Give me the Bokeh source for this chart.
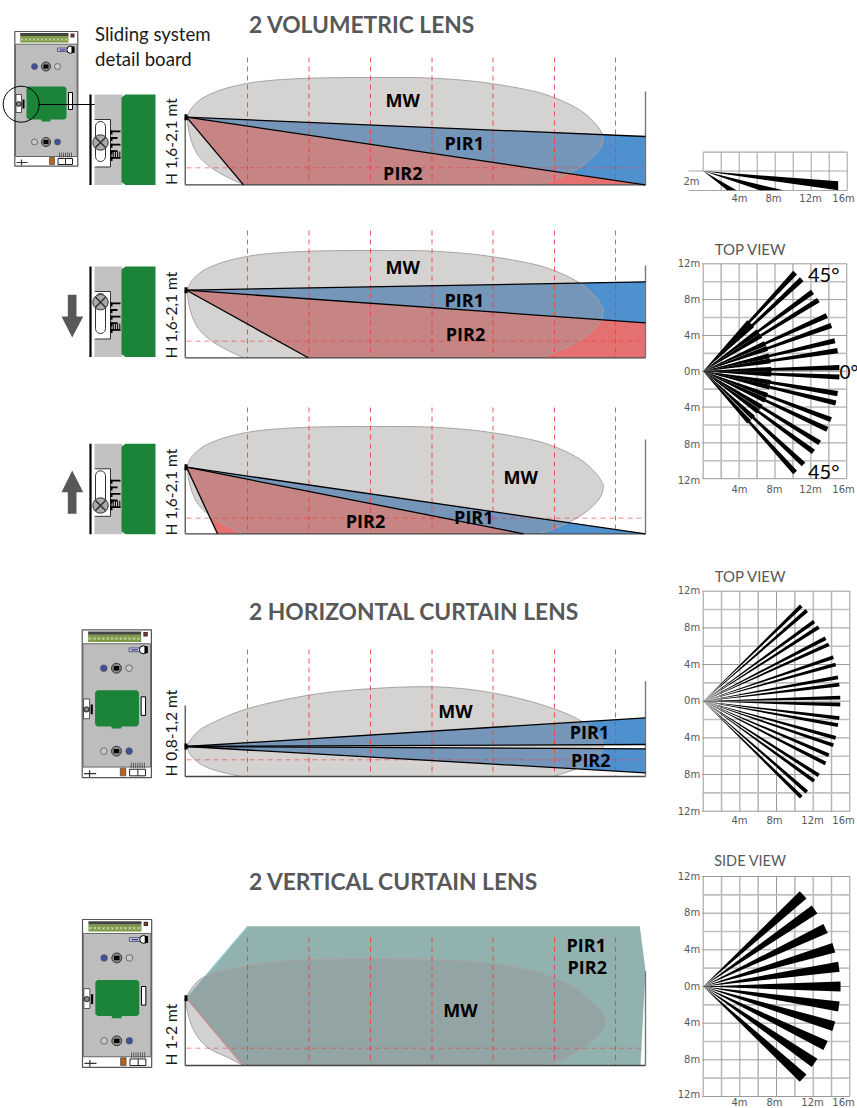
import math
from bokeh.plotting import figure
from bokeh.models import Range1d
from bokeh.core.properties import value
from bokeh.embed import file_html
from bokeh.resources import INLINE

# ---- data ----
TITLES = ["2 VOLUMETRIC LENS", "2 HORIZONTAL CURTAIN LENS", "2 VERTICAL CURTAIN LENS"]
VIEW_TITLES = ["TOP VIEW", "TOP VIEW", "SIDE VIEW"]
X_TICKS = ["4m", "8m", "12m", "16m"]
Y_TICKS = ["12m", "8m", "4m", "0m", "4m", "8m", "12m"]

# horizontal divisions of the coverage panels
DIV_X = [247, 308.5, 370, 431.5, 492.5, 554, 615]

# microwave lobes: position along the floor, height above the floor
MW_A_X = [243.3, 226.7, 210, 196.7, 189.3, 187.3, 193.3, 206.7, 230, 263.3, 313.3, 380, 430, 480, 530, 556.7, 580, 595, 601.7, 602.7, 598.3, 582, 560, 538.3]
MW_A_H = [0, 7.7, 17.7, 31, 49.3, 67.7, 79.3, 89.3, 97.7, 103.7, 106.7, 107.3, 106.7, 102.7, 94.3, 86, 74.3, 61, 51, 46, 34.3, 19.3, 7.7, 0]
MW_B_X = [240, 210, 193.3, 187.3, 196.7, 213.3, 246.7, 296.7, 346.7, 413.3, 463.3, 513.3, 553.3, 580, 596.7, 602.7, 596.7, 580, 553.3]
MW_B_H = [0, 7.7, 17.7, 30, 44.3, 54.3, 67.7, 79.3, 86, 89.7, 87.7, 79.3, 67.7, 56, 42.7, 31, 19.3, 9.3, 0]
MW_C_X = [242.7, 226.7, 206.7, 193.3, 186.7, 186, 193.3, 203.3, 223.3, 270, 320, 370, 436.7, 486.7, 536.7, 570, 593.3, 605, 600, 583.3, 560, 541.7]
MW_C_H = [0, 8.3, 18.3, 35, 55, 67.3, 80, 88.3, 95, 103.3, 106, 106.7, 105.7, 102.3, 93.3, 80, 61.7, 46.7, 33.3, 18.3, 5, 0]

# top view beam ends in metres (volumetric lens)
VOL_X = [10.26, 11.0, 12.2, 12.85, 13.8, 14.3, 14.7, 15.0, 15.2, 15.2, 15.0, 14.8, 14.26, 13.85, 13.0, 12.3, 11.2, 10.26]
VOL_Y = [11.0, 10.26, 8.85, 7.93, 6.2, 5.1, 3.4, 2.3, 0.4, -0.65, -2.5, -3.55, -5.4, -6.5, -8.0, -9.0, -10.4, -11.3]
# top view beam ends in metres (horizontal curtain)
HOR_X = [10.7, 11.3, 12.1, 12.6, 13.35, 13.7, 14.2, 14.45, 14.7, 14.85, 14.95, 14.95, 14.85, 14.7, 14.45, 14.2, 13.7, 13.35, 12.6, 12.1, 11.3, 10.7]
HOR_Y = [10.4, 9.9, 8.7, 8.07, 6.87, 6.2, 4.8, 4.0, 2.6, 1.8, 0.4, -0.36, -1.85, -2.6, -4.0, -4.8, -5.9, -6.8, -8.1, -8.7, -9.9, -10.47]
# side view beam ends in metres (vertical curtain)
VER_X = [10.9, 12.15, 13.35, 14.25, 14.8, 14.98, 14.8, 14.25, 13.35, 12.15, 10.9]
VER_Y = [10.0, 8.4, 6.33, 4.22, 2.15, 0, -2.18, -4.33, -6.44, -8.33, -10.0]
# small side view: beams cut by the floor (far end, near and far floor hit, metres)
SIDE_END_X, SIDE_END_TOP, SIDE_END_BOT = 15.0, -1.15, -2.15
SIDE_FLOOR_NEAR = [2.67, 6.3]
SIDE_FLOOR_FAR = [3.7, 8.9]
SIDE_FLOOR_Y = -2.15

# ---- page ----
p = figure(width=857, height=1108, x_range=Range1d(0, 857), y_range=Range1d(1108, 0),
           x_axis_type=None, y_axis_type=None, toolbar_location=None,
           output_backend="svg", min_border=0, outline_line_color=None, background_fill_color="white")
p.styles = {"position": "absolute", "left": "0px", "top": "0px"}

GRAY = "#58585a"
RED = "#ee3b3b"
BLUE = "#4f90cf"
SALMON = "#e4706f"
GREEN = "#1b8439"
BODY = "#c2c2c2"


def txt(x, y, s, size, color="black", font="Open Sans", style="normal", align="left", angle=0.0, base="middle"):
    p.text([x], [y], text=[s], text_font=value(font), text_font_size=f"{size}px", text_font_style=style,
           text_color=color, text_align=align, text_baseline=base, angle=angle)


def poly(xs, ys, fill, line=None, lw=1.0, alpha=1.0):
    p.patch(list(xs), list(ys), fill_color=fill, fill_alpha=alpha, line_color=line, line_width=lw)


def rect(x0, y0, x1, y1, fill, line=None, lw=1.0):
    poly([x0, x1, x1, x0], [y0, y0, y1, y1], fill, line, lw)


def seg(x0, y0, x1, y1, color="black", lw=1.0, dash="solid", alpha=1.0):
    p.line([x0, x1], [y0, y1], line_color=color, line_width=lw, line_dash=dash, line_alpha=alpha)


def spline(xs, ys, n=8):
    ox, oy = [], []
    m = len(xs)
    for i in range(m - 1):
        a, b, c, d = max(i - 1, 0), i, i + 1, min(i + 2, m - 1)
        for k in range(n):
            t = k / n
            f = lambda p0, p1, p2, p3: 0.5 * (2 * p1 + (p2 - p0) * t + (2 * p0 - 5 * p1 + 4 * p2 - p3) * t * t
                                               + (3 * p1 - p0 - 3 * p2 + p3) * t ** 3)
            ox.append(f(xs[a], xs[b], xs[c], xs[d]))
            oy.append(f(ys[a], ys[b], ys[c], ys[d]))
    ox.append(xs[-1])
    oy.append(ys[-1])
    return ox, oy


def blob(xs, hs, base, fill="#a39c9c", alpha=0.46):
    sx, sh = spline(xs, hs)
    sy = [base - max(h, 0) for h in sh]
    poly(sx, sy, fill, None, 1, alpha)
    p.line(sx, sy, line_color="#a8a2a2", line_width=1)


def panel_frame(base, v_top, h_y, right_top, sensor_y, left_top=None):
    for x in DIV_X:
        seg(x, v_top, x, base, RED, 1, "5 4", 0.85)
    seg(186, h_y, 645, h_y, RED, 1, "5 4", 0.6)
    seg(184.7, base, 645, base, "#444444", 1.3)
    seg(184.7, left_top if left_top else sensor_y, 184.7, base, "#444444", 1.2)
    seg(645, right_top, 645, base, "#777777", 1.4)
    rect(184, sensor_y - 3, 187, sensor_y + 3, "black")


def rays(sx, sy, ends):
    for ex, ey in ends:
        seg(sx, sy, ex, ey, "black", 1.3)


def labels(items):
    for s, x, y in items:
        txt(x, y, s, 18, "black", "Open Sans", "bold", "center")


# panel 1
sy = 116.7; b = 184.3
poly([186, 645, 645], [sy, 136, 184], BLUE)
poly([186, 645, 243], [sy, 184, b], SALMON)
blob(MW_A_X, MW_A_H, b)
panel_frame(b, 57, 167.3, 91, sy)
rays(186, sy, [(645, 136), (645, b), (243, b)])
labels([("MW", 402.3, 99.3), ("PIR1", 463.7, 142.7), ("PIR2", 402.3, 172.3)])

# panel 2
sy = 289.7; b = 357.3
poly([186, 645, 645], [sy, 281.3, 322.3], BLUE)
poly([186, 645, 645, 307.7], [sy, 322.3, b, b], SALMON)
blob(MW_A_X, MW_A_H, b)
panel_frame(b, 230, 340.7, 265, sy)
rays(186, sy, [(645, 281.3), (645, 322.3), (307.7, b)])
labels([("MW", 402.3, 266), ("PIR1", 463.7, 299), ("PIR2", 465, 333.3)])

# panel 3
sy = 466.7; b = 533.3
poly([186, 645, 523], [sy, b, b], BLUE)
poly([186, 523, 217], [sy, b, b], SALMON)
blob(MW_A_X, MW_A_H, b)
panel_frame(b, 407, 517.7, 439, sy)
rays(186, sy, [(645, b), (523, b), (217, b)])
labels([("MW", 520.3, 476), ("PIR2", 365, 520), ("PIR1", 473.3, 516.7)])

# panel 4
sy = 746; b = 776
poly([186, 645, 645], [sy, 717.3, 744], BLUE)
poly([186, 645, 645], [sy, 748.3, 772.3], BLUE)
blob(MW_B_X, MW_B_H, b)
panel_frame(b, 649, 759.3, 680.7, sy, 705)
rays(186, sy, [(645, 717.3), (645, 744), (645, 748.3), (645, 772.3)])
labels([("MW", 455, 710.7), ("PIR1", 589, 731.7), ("PIR2", 590.3, 759.3)])

# panel 5
sy = 997.7; b = 1065
TEAL = "#92b2b0"
poly([186, 247.3, 639.3, 645, 640, 242.7], [sy, 925.7, 925.7, 970, b, b], TEAL)
seg(186, sy, 247.3, 925.7, "#8fd0dc", 1.2)
seg(186, sy, 242.7, b, "#e58d85", 1.3)
blob(MW_C_X, MW_C_H, b, "#949191", 0.42)
panel_frame(b, 937.3, 1047.7, 970.7, sy)
labels([("MW", 460, 1009.3), ("PIR1", 585.7, 944.3), ("PIR2", 586.7, 966)])

# titles
for s, y in zip(TITLES, [23, 610, 880]):
    txt(248.5, y, s, 22.8, GRAY, "Lato", "bold")
txt(94.5, 33.5, "Sliding system", 18.6, "#1a1a1a", "Lato")
txt(94.5, 58.5, "detail board", 18.6, "#1a1a1a", "Lato")
for s, bottom in [("H 1,6-2,1 mt", 184.5), ("H 1,6-2,1 mt", 358), ("H 1,6-2,1 mt", 535), ("H 0,8-1,2 mt", 776), ("H 1-2 mt", 1065)]:
    txt(170, bottom, s, 15.5, "#1a1a1a", "Lato", angle=math.pi / 2)


# board drawing
def board(x0, y0, k):
    X = lambda v: x0 + (v - 14.3) * k
    Y = lambda v: y0 + (v - 31) * k
    rect(X(14.3), Y(31), X(77.3), Y(165.7), "white", "#555555", 1.2)
    rect(X(15), Y(43.7), X(76.6), Y(156), "#bdbdbd", "#666666", 1)
    rect(X(19.7), Y(35.5), X(68), Y(42), "#7d9a45")
    rect(X(19.7), Y(32.5), X(68), Y(35.5), "#444444")
    for i in range(12):
        c = 21.5 + i * 4
        p.scatter([X(c)], [Y(39)], marker="x", size=3 * k, line_color="white", line_width=0.7)
    rect(X(70), Y(33), X(74), Y(37), "#333333")
    rect(X(71), Y(34), X(73), Y(36), "#b03030")
    # cable gland
    rect(X(57), Y(47.5), X(67), Y(51), "#c9c9e0", "#444466", 0.8)
    rect(X(59), Y(48.7), X(65), Y(49.9), "#3b3b8a")
    p.circle([X(70)], [Y(49.2)], radius=3.6 * k, fill_color="white", line_color="black", line_width=1)
    rect(X(71), Y(46), X(74), Y(52.4), "black")
    # green board
    gx = [26, 28, 64, 66, 66, 64, 50, 50, 41, 41, 28, 26]
    gy = [88, 86, 86, 88, 117, 119, 119, 121, 121, 119, 119, 117]
    poly([X(v) for v in gx], [Y(v) for v in gy], GREEN)
    # reed/slider
    rect(X(68), Y(92), X(72), Y(109), "white", "black", 1)
    # screws and LEDs
    for cy, a, c in [(66, "#3d4f9f", "#c9c9c9"), (141.5, "#c9c9c9", "#3d4f9f")]:
        p.circle([X(34)], [Y(cy)], radius=3 * k, fill_color=a, line_color="#555555", line_width=0.8)
        p.circle([X(57)], [Y(cy)], radius=3 * k, fill_color=c, line_color="#555555", line_width=0.8)
        p.circle([X(45.5)], [Y(cy)], radius=4.5 * k, fill_color="#8a8a8a", line_color="#333333", line_width=1)
        rect(X(43), Y(cy - 2), X(48), Y(cy + 2), "black")
    # slider at the left edge
    rect(X(15.5), Y(94), X(21), Y(112), "white", "#333333", 0.8)
    p.circle([X(18.2)], [Y(103.5)], radius=2.4 * k, fill_color="#888888", line_color="black", line_width=0.8)
    rect(X(22), Y(99), X(24), Y(108), "black")
    # bottom strip items
    seg(X(16), Y(162), X(27), Y(162), "#333333", 1.2)
    seg(X(21), Y(159), X(21), Y(165), "#333333", 1.2)
    rect(X(49), Y(157), X(54), Y(164), "#b5651d", "#333333", 0.6)
    rect(X(57.5), Y(158), X(72), Y(164), "white", "#222222", 1)
    seg(X(65), Y(158), X(65), Y(164), "#222222", 1)
    for i in range(7):
        seg(X(59 + i * 2), Y(152), X(59 + i * 2), Y(157), "#333333", 0.7)


board(14.3, 31, 1)
p.circle([20.7], [103.7], radius=18, fill_color=None, line_color="black", line_width=1)
seg(38, 104, 102, 104, "black", 1)
board(81.7, 629.3, 1.098)
board(82, 919, 1.098)


# slide detail
def slide(top, screw):
    h = 90.5
    rect(94, top, 122, top + h, BODY)
    gx = [121, 125, 155, 155, 125, 121]
    gy = [top + 3, top, top, top + h, top + h, top + h - 3]
    poly(gx, gy, GREEN)
    c0, c1 = top + 25, top + 72.5
    poly([94, 110, 110, 94], [c0, c0, c1, c1], "white", "#333333", 1)
    seg(94, c0, 94, c1, "white", 1.6)
    seg(90, top, 90, top + h, "black", 2.2)
    # pill
    ang = [math.pi * i / 10 for i in range(11)]
    xs = [100 + 5 * math.cos(math.pi + a) for a in ang] + [100 + 5 * math.cos(a) for a in ang]
    ys = [top + 32 - 5 * math.sin(a) for a in ang] + [top + 62 + 5 * math.sin(a) for a in ang]
    poly(xs, ys, "white", "#333333", 1)
    # comb
    cy = top + 36
    lens = [10, 7, 10, 7, 10]
    for i, l in enumerate(lens):
        y = cy + i * 6.6
        rect(110, y, 110 + l, y + 1.8, "black")
        rect(110, y, 112, y + 4, "black")
    for i in range(5):
        rect(110 + i * 2.2, cy + 21, 111 + i * 2.2, cy + 28, "black")
    # screw
    sc = top + screw
    p.circle([100], [sc], radius=7.7, fill_color="#aaaaaa", line_color="#333333", line_width=1)
    seg(95, sc - 5, 105, sc + 5, "#333333", 1.6)
    seg(95, sc + 5, 105, sc - 5, "#333333", 1.6)


slide(94, 48)
slide(266, 35.7)
slide(443.3, 61.7)

# arrows
poly([67.3, 76, 76, 82.7, 71.7, 61, 67.3], [294.3, 294.3, 316, 316, 337, 316, 316], GRAY)
poly([67.3, 76, 76, 82.7, 71.7, 61, 67.3], [513.3, 513.3, 491.7, 491.7, 470, 491.7, 491.7], GRAY)


# grids
def grid(x0, y_top, y_bot, step, nx=8):
    ny = round((y_bot - y_top) / step)
    for i in range(nx + 1):
        x = x0 + i * step
        seg(x, y_top, x, y_bot, "#9a9a9a" if i % 2 == 0 else "#b5b5b5", 1.0 if i % 2 == 0 else 1.5)
    for j in range(ny + 1):
        y = y_top + j * (y_bot - y_top) / ny
        seg(x0 - 1, y, x0 + nx * step, y, "#9a9a9a" if j % 2 == 0 else "#c0c0c0", 1.0 if j % 2 == 0 else 1.6)


def wedge(ox, oy, ppm, ex, ey, w):
    dx, dy = ex * ppm, -ey * ppm
    l = math.hypot(dx, dy)
    nx, ny = -dy / l * w / 2, dx / l * w / 2
    poly([ox, ox + dx + nx, ox + dx - nx], [oy, oy + dy + ny, oy + dy - ny], "black")


def grid_labels(x0, xs_y, ys, xs):
    for s, x in zip(X_TICKS, xs):
        txt(x, xs_y, s, 10, GRAY, "DejaVu Sans", align="center")
    for s, y in zip(Y_TICKS, ys):
        txt(x0 - 3, y, s, 10, GRAY, "DejaVu Sans", align="right")


# small side view
ox, oy, m = 702.7, 170.5, 9.0
for i in range(9):
    x = ox + i * 18
    seg(x, 151.7, x, 190 if i else 170.5, "#a0a0a0", 1)
for y, x0 in [(151.7, ox), (170.5, 688), (190, 688)]:
    seg(x0, y, ox + 144, y, "#a8a8a8", 1.2)
poly([ox, ox + SIDE_END_X * m, ox + SIDE_END_X * m], [oy, oy - SIDE_END_TOP * m, oy - SIDE_END_BOT * m], "black")
for a, c in zip(SIDE_FLOOR_NEAR, SIDE_FLOOR_FAR):
    poly([ox, ox + a * m, ox + c * m], [oy, oy - SIDE_FLOOR_Y * m, oy - SIDE_FLOOR_Y * m], "black")
txt(699, 180.7, "2m", 10, GRAY, "DejaVu Sans", align="right")
for s, x in zip(X_TICKS, [739, 773, 810, 843]):
    txt(x, 198, s, 10, GRAY, "DejaVu Sans", align="center")

# top view volumetric
ox, oy, m = 702.7, 370.7, 8.96
grid(ox, 263.3, 478.2, 17.95)
for ex, ey in zip(VOL_X, VOL_Y):
    wedge(ox, oy, m, ex, ey, 5.2)
    wedge(ox, oy, m, ex * 0.5, ey * 0.5, 5.0)
grid_labels(ox, 489, [263, 299, 335, 371, 407, 444, 480], [739, 774, 810, 843])
txt(786, 248, "TOP VIEW", 15, GRAY, "Lato", align="right")
txt(807.5, 273, "45°", 20, "black", "Lato")
txt(807.5, 470, "45°", 20, "black", "Lato")
txt(839, 371, "0°", 19, "black", "Lato")

# top view horizontal curtain
ox, oy, m = 702.7, 700.7, 9.167
grid(ox, 590.7, 810.7, 18.33)
for ex, ey in zip(HOR_X, HOR_Y):
    wedge(ox, oy, m, ex, ey, 3.8)
grid_labels(ox, 820, [590, 627, 664, 700, 737, 774, 811], [739, 774, 812, 843])
txt(786, 575, "TOP VIEW", 15, GRAY, "Lato", align="right")

# side view vertical curtain
ox, oy, m = 702.7, 986, 9.167
grid(ox, 876, 1096, 18.33)
for ex, ey in zip(VER_X, VER_Y):
    wedge(ox, oy, m, ex, ey, 10)
grid_labels(ox, 1101.5, [876, 912, 949, 986, 1022, 1059, 1094], [739, 774, 812, 843])
txt(786, 860, "SIDE VIEW", 14.5, GRAY, "Lato", align="right")

open("out.html", "w").write(file_html(p, INLINE))
